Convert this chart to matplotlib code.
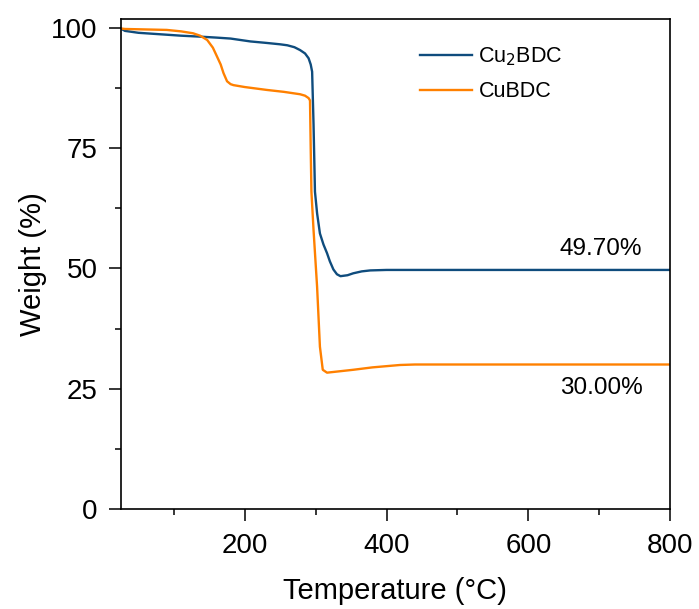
import numpy as np
import matplotlib.pyplot as plt

#%% Data

# Cu2BDC
T_cu2 = [25, 31, 50, 80, 110, 137, 160, 180, 208, 230, 250, 260, 270, 278, 285,
         290, 293, 295, 297, 299, 302, 306, 311, 316, 320, 325, 330, 335, 345,
         353, 365, 377, 400, 419, 500, 600, 700, 800]
W_cu2 = [100, 99.5, 99.1, 98.8, 98.5, 98.3, 98.1, 97.9, 97.3, 97.0, 96.7, 96.5,
         96.1, 95.5, 94.8, 93.8, 92.5, 91.0, 80.0, 66.0, 61.5, 57.3, 55.0, 53.2,
         51.5, 49.8, 48.8, 48.4, 48.6, 49.0, 49.4, 49.6, 49.7, 49.7, 49.7, 49.7,
         49.7, 49.7]

# CuBDC
T_cu = [25, 31, 60, 90, 110, 127, 137, 147, 155, 161, 166, 170, 175, 180, 184,
        200, 231, 255, 278, 285, 290, 292, 293, 294, 297, 302, 306, 310, 316,
        353, 380, 419, 440, 500, 600, 700, 800]
W_cu = [100, 99.9, 99.8, 99.7, 99.4, 99.0, 98.5, 97.6, 96.0, 94.1, 92.5, 90.7,
        89.0, 88.4, 88.2, 87.8, 87.2, 86.8, 86.3, 86.0, 85.5, 85.0, 75.0, 66.0,
        58.0, 46.2, 33.7, 28.9, 28.3, 28.9, 29.4, 29.9, 30.0, 30.0, 30.0, 30.0,
        30.0]

residues = ["49.70%", "30.00%"]

#%% Figure

plt.rcParams['font.family'] = ['Liberation Sans', 'DejaVu Sans']

fig = plt.figure(figsize=(6.99, 6.09), dpi=100)
ax = fig.add_axes([0.1727, 0.165, 0.786, 0.804])

ax.plot(T_cu2, W_cu2, color='#0f4c7d', lw=1.7, label='Cu$_2$BDC')
ax.plot(T_cu, W_cu, color='#ff8000', lw=1.7, label='CuBDC')

ax.set_xlim(25, 800)
ax.set_ylim(0, 102)
ax.set_xticks([200, 400, 600, 800])
ax.set_xticks([100, 300, 500, 700], minor=True)
ax.set_yticks([0, 25, 50, 75, 100])
ax.set_yticks([12.5, 37.5, 62.5, 87.5], minor=True)

ax.tick_params(which='major', length=8.6, width=1.1, labelsize=20, pad=9)
ax.tick_params(axis='y', which='major', pad=8)
ax.tick_params(which='minor', length=4.3, width=1.1)
for s in ax.spines.values():
    s.set_linewidth(1.2)

ax.set_xlabel('Temperature (°C)', fontsize=21, labelpad=13)
ax.set_ylabel('Weight (%)', fontsize=21, labelpad=3)

ax.text(761, 54, residues[0], fontsize=17.5, ha='right', va='center')
ax.text(761, 25.1, residues[1], fontsize=17.5, ha='right', va='center')

ax.legend(loc='upper left', bbox_to_anchor=(0.51, 0.985), frameon=False,
          fontsize=15.5, handlelength=2.4, handletextpad=0.3, labelspacing=0.6)

fig.savefig('out.png', dpi=100)
